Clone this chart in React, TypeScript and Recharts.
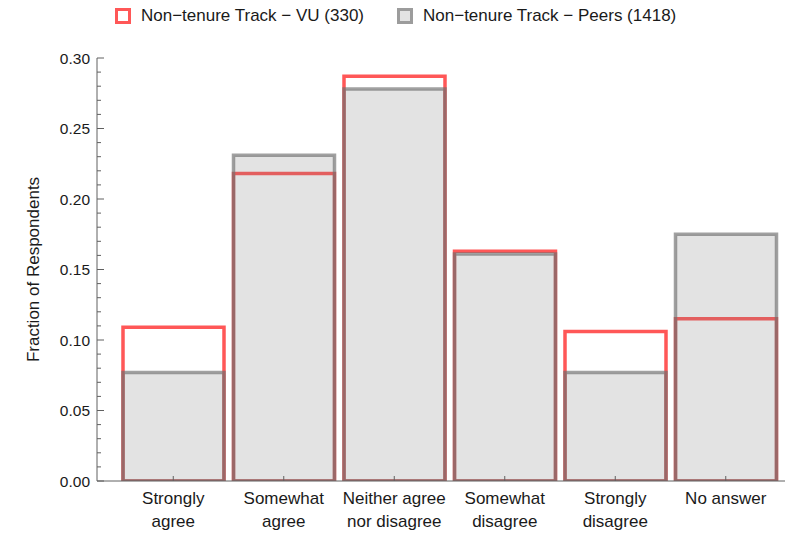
import React from 'react';
import { BarChart, Bar, XAxis, YAxis, Label } from 'recharts';

const categories = [
  'Strongly agree',
  'Somewhat agree',
  'Neither agree nor disagree',
  'Somewhat disagree',
  'Strongly disagree',
  'No answer',
];
const categoryLabelLines: string[][] = [
  ['Strongly', 'agree'],
  ['Somewhat', 'agree'],
  ['Neither agree', 'nor disagree'],
  ['Somewhat', 'disagree'],
  ['Strongly', 'disagree'],
  ['No answer'],
];
const vuValues = [0.109, 0.218, 0.287, 0.163, 0.106, 0.115];
const peersValues = [0.077, 0.231, 0.278, 0.161, 0.077, 0.175];
const seriesNames = ['Non\u2212tenure Track \u2212 VU (330)', 'Non\u2212tenure Track \u2212 Peers (1418)'];
const yTicks = [
  0, 0.01, 0.02, 0.03, 0.04, 0.05, 0.06, 0.07, 0.08, 0.09, 0.1, 0.11, 0.12, 0.13, 0.14, 0.15,
  0.16, 0.17, 0.18, 0.19, 0.2, 0.21, 0.22, 0.23, 0.24, 0.25, 0.26, 0.27, 0.28, 0.29, 0.3,
];
const yMajorTicks = [0, 0.05, 0.1, 0.15, 0.2, 0.25, 0.3];
const yLabel = 'Fraction of Respondents';

const data = categories.map((c, i) => ({ category: c, vu: vuValues[i], peers: peersValues[i] }));

const FONT = '"Liberation Sans", Arial, sans-serif';
const AXIS = '#606060';
const TEXT = '#1a1a1a';
const RED = '#ff5757';
const GRAY_STROKE = 'rgba(110,110,110,0.65)';
const GRAY_FILL = 'rgba(128,128,128,0.22)';
const Y_TICK_MARGIN = 7;
const X_TICK_MARGIN = 8;
const BAR_SIZE = 101;

const YTick = (props: any) => {
  const { x, y, payload } = props;
  const v = payload.value as number;
  const major = yMajorTicks.some((m) => Math.abs(m - v) < 1e-9);
  const ax = x + Y_TICK_MARGIN;
  return (
    <g>
      <line x1={ax} x2={ax + (major ? 7 : 4)} y1={y} y2={y} stroke={AXIS} strokeWidth={1} />
      {major && (
        <text x={x} y={y} dy="0.36em" textAnchor="end" fontSize={15.5} fontFamily={FONT} fill={TEXT}>
          {v.toFixed(2)}
        </text>
      )}
    </g>
  );
};

const XTick = (props: any) => {
  const { x, y, payload } = props;
  const idx = categories.indexOf(payload.value);
  const lines = categoryLabelLines[idx] || [payload.value];
  const ay = y - X_TICK_MARGIN;
  return (
    <g>
      <line x1={x} x2={x} y1={ay} y2={ay - 5} stroke={AXIS} strokeWidth={1} />
      {lines.map((l, i) => (
        <text
          key={i}
          x={x}
          y={y + 15 + i * 23}
          textAnchor="middle"
          fontSize={17}
          fontFamily={FONT}
          fill={TEXT}
        >
          {l}
        </text>
      ))}
    </g>
  );
};

const YLabel = (props: any) => {
  const { viewBox } = props;
  const cx = viewBox.x + 33;
  const cy = viewBox.y + viewBox.height / 2;
  return (
    <text
      x={cx}
      y={cy}
      transform={`rotate(-90, ${cx}, ${cy})`}
      textAnchor="middle"
      dominantBaseline="central"
      fontSize={17}
      fontFamily={FONT}
      fill={TEXT}
    >
      {yLabel}
    </text>
  );
};

const legendStyles = [
  { border: RED, bg: '#ffffff' },
  { border: '#9c9c9c', bg: '#e3e3e3' },
];

export default function App() {
  return (
    <div style={{ position: 'absolute', left: 0, top: 0, width: 785, height: 542, background: '#fff' }}>
      <div
        style={{
          position: 'absolute',
          left: 115,
          top: 6,
          height: 20,
          display: 'flex',
          alignItems: 'center',
          fontFamily: FONT,
          fontSize: 17,
          color: TEXT,
          whiteSpace: 'nowrap',
        }}
      >
        {seriesNames.map((n, i) => (
          <div key={n} style={{ display: 'flex', alignItems: 'center', marginRight: i === 0 ? 33 : 0 }}>
            <div
              style={{
                width: 10,
                height: 10,
                border: `3px solid ${legendStyles[i].border}`,
                background: legendStyles[i].bg,
                marginRight: 10,
              }}
            />
            <span>{n}</span>
          </div>
        ))}
      </div>
      <BarChart
        width={785}
        height={542}
        data={data}
        margin={{ top: 58, right: 0, bottom: 6, left: 0 }}
        barSize={BAR_SIZE}
        barGap={-BAR_SIZE}
      >
        <XAxis
          dataKey="category"
          height={55}
          padding={{ left: 21, right: 4 }}
          axisLine={{ stroke: AXIS }}
          tickLine={false}
          tickSize={0}
          tickMargin={X_TICK_MARGIN}
          interval={0}
          tick={<XTick />}
        />
        <YAxis
          width={97}
          domain={[0, 0.3]}
          ticks={yTicks}
          interval={0}
          axisLine={{ stroke: AXIS }}
          tickLine={false}
          tickSize={0}
          tickMargin={Y_TICK_MARGIN}
          tick={<YTick />}
          allowDataOverflow
        >
          <Label content={<YLabel />} />
        </YAxis>
        <Bar dataKey="vu" fill="none" stroke={RED} strokeWidth={3.5} isAnimationActive={false} />
        <Bar
          dataKey="peers"
          fill={GRAY_FILL}
          stroke={GRAY_STROKE}
          strokeWidth={3.5}
          isAnimationActive={false}
        />
      </BarChart>
    </div>
  );
}
